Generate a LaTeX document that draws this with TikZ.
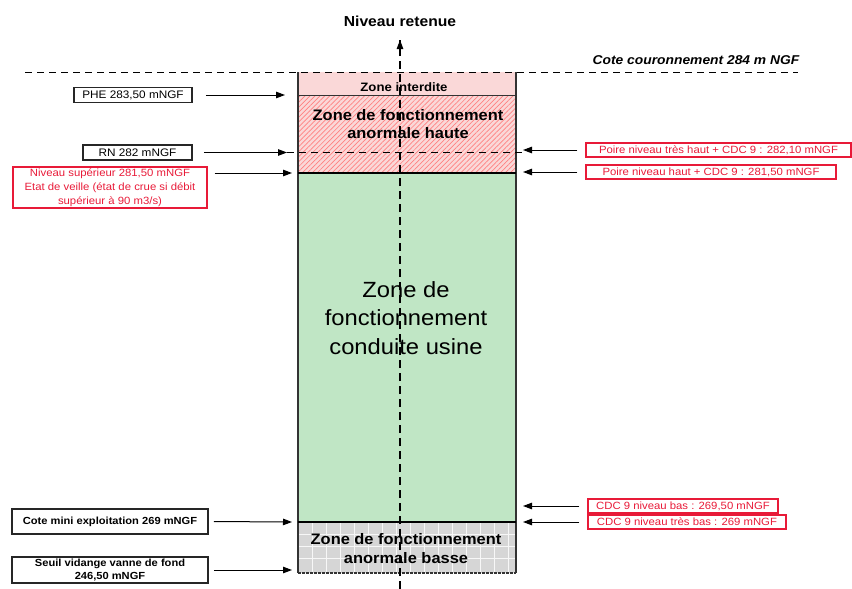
\documentclass[tikz,border=0pt]{standalone}
\usepackage{fontspec}
\setmainfont{Liberation Sans}[FakeStretch=1.08]
\usetikzlibrary{arrows.meta,patterns.meta}
\definecolor{rd}{RGB}{232,26,56}
\definecolor{grn}{RGB}{192,230,197}
\definecolor{pnk}{RGB}{250,216,216}
\definecolor{gry}{RGB}{214,214,214}
\begin{document}
\begin{tikzpicture}[x=1pt,y=-1pt,
  blackbox/.style={draw=black!85,line width=1.7pt,inner sep=0pt,align=center},
  redbox/.style={draw=rd,line width=1.3pt,text=rd,inner sep=0pt,align=center,font=\fontsize{10.5}{14}\selectfont},
  arr/.style={-{Triangle[length=9pt,width=6.5pt]},line width=1pt},
  dsh/.style={dash pattern=on 7pt off 5pt,line width=1pt},
  zonetxt/.style={align=center,inner sep=0pt}]
\useasboundingbox (0,0) rectangle (852,589);
% zones
\fill[pnk] (298,72) rectangle (516,173);
\fill[pattern={Lines[angle=45,distance=3.5pt,line width=0.7pt]},pattern color=red!50] (298,95) rectangle (516,173);
\fill[grn] (298,173) rectangle (516,522);
\fill[gry] (298,522) rectangle (516,573);
\foreach \gx in {312,326,...,508} \draw[white!80!gry,line width=0.4pt] (\gx,522) -- (\gx,573);
\foreach \gy in {534,546,558} \draw[white!80!gry,line width=0.4pt] (298,\gy) -- (516,\gy);
% borders
\draw[line width=1.1pt,black!80] (298,72) -- (298,573) (516,72) -- (516,573);
\draw[line width=0.8pt,black!80] (298,95) -- (516,95);
\draw[line width=1.2pt] (298,173) -- (516,173) (298,522) -- (516,522);
\draw[line width=1.2pt,dash pattern=on 3pt off 1pt,black!80] (298,573) -- (516,573);
% crest line
\coordinate (crL) at (25,72);
\coordinate (crR) at (798,72);
\draw[dsh] (crL) -- (crR);
\node[font=\bfseries\itshape\fontsize{12.8}{15}\selectfont] (crest) at (696,60) {Cote couronnement 284 m NGF};
% vertical axis
\coordinate (axB) at (400,589);
\coordinate (axT) at (400,40);
\draw[dsh,dash pattern=on 8pt off 5pt,line width=1.1pt] (axB) -- (axT);
\draw[-{Triangle[length=9pt,width=6.5pt]},line width=1.1pt] (400,47) -- (axT);
\node[font=\bfseries\fontsize{14.5}{16}\selectfont] (nr) at (400,21) {Niveau retenue};
% zone texts
\node[zonetxt,font=\bfseries\fontsize{12.2}{14}\selectfont] (zi) at (404,87) {Zone interdite};
\node[zonetxt,font=\bfseries\fontsize{15.2}{18.5}\selectfont] (zah) at (408,124) {Zone de fonctionnement\\anormale haute};
\node[zonetxt,font=\fontsize{22}{28.5}\selectfont] (zcu) at (406,318) {Zone de\\fonctionnement\\conduite usine};
\node[zonetxt,font=\bfseries\fontsize{15.2}{19}\selectfont] (zab) at (406,549) {Zone de fonctionnement\\anormale basse};
% left boxes
\node[blackbox,minimum width=118pt,minimum height=15pt,font=\fontsize{10.9}{12}\selectfont] (phe) at (133,95) {PHE 283,50 mNGF};
\node[blackbox,minimum width=109pt,minimum height=15pt,font=\fontsize{10.9}{12}\selectfont] (rn) at (137.5,152.5) {RN 282 mNGF};
\node[redbox,minimum width=194pt,minimum height=41pt] (nsup) at (110,187.5) {Niveau supérieur 281,50 mNGF\\Etat de veille (état de crue si débit\\supérieur à 90 m3/s)};
\node[blackbox,minimum width=196pt,minimum height=25pt,font=\bfseries\fontsize{10.3}{12}\selectfont] (cmin) at (110,521.5) {Cote mini exploitation 269 mNGF};
\node[blackbox,minimum width=196pt,minimum height=26pt,font=\bfseries\fontsize{10.3}{12.5}\selectfont] (seuil) at (110,570) {Seuil vidange vanne de fond\\246,50 mNGF};
% right boxes
\node[redbox,minimum width=265pt,minimum height=14pt] (pth) at (718.5,150) {Poire niveau très haut + CDC 9 : 282,10 mNGF};
\node[redbox,minimum width=250pt,minimum height=14pt] (ph) at (711,172) {Poire niveau haut + CDC 9 : 281,50 mNGF};
\node[redbox,minimum width=190pt,minimum height=14pt] (cb) at (683,506) {CDC 9 niveau bas : 269,50 mNGF};
\node[redbox,minimum width=198pt,minimum height=14pt] (ctb) at (687,522) {CDC 9 niveau très bas : 269 mNGF};
% target coordinates
\coordinate (tphe) at (285,95);
\coordinate (trn) at (287,152.5);
\coordinate (tnsup) at (292,173);
\coordinate (tcmin) at (292,522);
\coordinate (tseuil) at (292,570);
\coordinate (tpth) at (523,150);
\coordinate (tph) at (523,172);
\coordinate (tcb) at (523,506);
\coordinate (tctb) at (523,522);
\coordinate (rnR) at (522,152.5);
% RN dashed line
\draw[dsh] (trn) -- (rnR);
% arrows
\draw[arr,shorten <=13pt] (phe.east) -- (tphe);
\draw[arr,shorten <=11pt] (rn.east) -- (trn);
\draw[arr,shorten <=7pt] (nsup.east |- tnsup) -- (tnsup);
\draw[arr,shorten <=5pt] (cmin.east) -- (tcmin);
\draw[arr,shorten <=5pt] (seuil.east) -- (tseuil);
\draw[arr,shorten <=8pt] (pth.west) -- (tpth);
\draw[arr,shorten <=8pt] (ph.west) -- (tph);
\draw[arr,shorten <=8pt] (cb.west) -- (tcb);
\draw[arr,shorten <=8pt] (ctb.west) -- (tctb);
\end{tikzpicture}
\end{document}
